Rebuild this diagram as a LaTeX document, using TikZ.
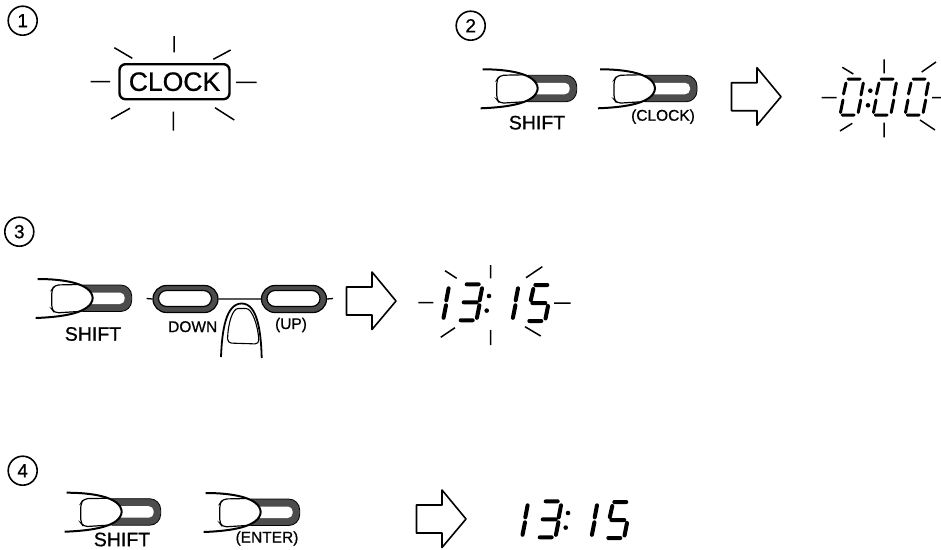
\documentclass[tikz,border=0pt]{standalone}
\usepackage{fontspec}
\setmainfont{Liberation Sans}[FakeBold=0.7]
\usetikzlibrary{shapes.misc}
\newcommand\segA{(-5,-18) -- (7,-18)}
\newcommand\segB{(10.3,-14) -- (8,-2)}
\newcommand\segC{(7.7,3) -- (5.2,15.5)}
\newcommand\segD{(-11,18) -- (1,18)}
\newcommand\segE{(-10,3) -- (-12.5,15.5)}
\newcommand\segF{(-7,-14) -- (-9.5,-3)}
\newcommand\segG{(-8,0) -- (5,0)}
\newcommand\labelsize[1]{\fontsize{#1}{#1}\selectfont}
\tikzset{
  ray/.style={line width=1.5pt},
  segment/.style={line width=4pt, line cap=round},
  thinsegment/.style={line width=3pt, line cap=round},
  stepmark/.style={draw, circle, line width=1.6pt, minimum size=29pt, inner sep=0pt, font=\labelsize{19}},
  keylabel/.style={inner sep=0pt, font=\labelsize{#1}},
  padkey/.style={draw, rounded rectangle, fill=black!70, line width=1.2pt, minimum width=65pt, minimum height=27pt, inner sep=0pt},
  padface/.style={draw, rounded rectangle, fill=white, line width=1.2pt, minimum width=53pt, minimum height=16pt, inner sep=0pt},
  pics/fingerkey/.style={code={
    \draw[black, fill=black!70, line width=0.8pt, rounded corners=11pt] (-20,-13) -- (#1,-13) -- (#1,13.5) -- (-20,13.5) -- cycle;
    \fill[white, rounded corners=5pt] (-6,-5.5) -- (#1-7,-5.5) -- (#1-7,6) -- (-6,6) -- cycle;
    \fill[white] (-55,-19) .. controls (-30,-19) and (-1,-15) .. (0,0) .. controls (-1,15) and (-30,19) .. (-57,20) -- cycle;
    \draw[line width=2pt] (-55,-19) .. controls (-30,-19) and (-1,-15) .. (0,0) .. controls (-1,15) and (-30,19) .. (-57,20);
    \draw[line width=1.2pt, rounded corners=4pt] (-14,-13.5) -- (-38,-13) -- (-41,-8) -- (-41,11) -- (-38,15) -- (-14,13.5);
  }},
  pics/openarrow/.style={code={
    \draw[line width=1.6pt, line join=round] (-49.5,-14) -- (-24,-14) -- (-24,-29) -- (0,0) -- (-24,28.5) -- (-24,14) -- (-49.5,14) -- cycle;
  }},
  pics/dotpair/.style={code={
    \fill (17.3,-6.3) circle (2.3pt);
    \fill (15,8.3) circle (2.3pt);
  }},
  pics/digitone/.style={code={\draw[segment] \segB \segC;}},
  pics/digitthree/.style={code={\draw[segment] \segA \segB \segC \segD \segG;}},
  pics/digitfive/.style={code={\draw[segment] \segA \segF \segG \segC \segD;}},
  pics/digitzero/.style={code={\draw[thinsegment] \segA \segB \segC \segD \segE \segF;}},
}
\begin{document}
\begin{tikzpicture}[x=1pt, y=-1pt]
\useasboundingbox (0,0) rectangle (941,549);
% step marks
\node[stepmark] (one) at (22.7,20.7) {1};
\node[stepmark] (two) at (470.7,25.7) {2};
\node[stepmark] (three) at (19.3,231.7) {3};
\node[stepmark] (four) at (22.7,470.7) {4};
% step 1
\node[draw, rounded corners=6pt, line width=2.4pt, minimum width=110pt, minimum height=35pt, inner sep=0pt, font=\labelsize{26.5}] (clock) at (174.5,81.7) {CLOCK};
\draw[ray] (174,36) -- (174,52.3) (173.3,111.7) -- (173.3,130.7) (90.7,81.7) -- (110,81.7) (236,82.3) -- (256.7,82.3)
  (114.3,47.7) -- (132.3,58.3) (213.3,59.3) -- (230.7,50) (111,119) -- (130,108.3) (215,107.7) -- (234.3,120);
% step 2
\pic at (537.7,88.3) {fingerkey=39};
\node[keylabel=19.5] (shifta) at (537,122.7) {SHIFT};
\pic at (655,88.3) {fingerkey=42};
\node[keylabel=15.5] (clockkey) at (663,116.7) {(CLOCK)};
\pic at (781,96.7) {openarrow};
\pic at (853,97) {digitzero};
\pic at (853,97) {dotpair};
\pic at (886,97) {digitzero};
\pic at (918,97) {digitzero};
\draw[ray] (884,59.3) -- (884,73.3) (884,122.7) -- (884,137.3) (821.7,97.7) -- (836.7,97.7) (932,97.7) -- (941,97.7)
  (842.3,67.3) -- (853.3,74) (840,131) -- (852.3,123.3) (921.7,72) -- (936,62) (920,120) -- (935,130);
% step 3
\node[padkey] (downkey) at (185.5,299) {};
\node[padkey] (upkey) at (294,299) {};
\coordinate (wireleft) at (146.7,298.5);
\coordinate (wireright) at (333,298.5);
\draw[line width=1.3pt] (wireleft) -- (downkey.west) (downkey.east) -- (upkey.west) (upkey.east) -- (wireright);
\node[padface] (downface) at (185,298.5) {};
\node[padface] (upface) at (293.5,298.5) {};
\pic at (92.7,298) {fingerkey=39};
\node[keylabel=19.5] (shiftb) at (93,334) {SHIFT};
\node[keylabel=15.5] (downlabel) at (192.7,326.7) {DOWN};
\node[keylabel=15.5] (uplabel) at (291,325) {(UP)};
\draw[fill=white, line width=1.8pt] (221,357) .. controls (222,330) and (226,303.5) .. (241.7,303.5) .. controls (257,303.5) and (261,330) .. (261.7,358);
\draw[line width=1.1pt, rounded corners=4pt] (227.5,343) .. controls (228,322) and (233,308.5) .. (242,308.5) .. controls (252,308.5) and (258,325) .. (259,344) -- cycle;
\pic at (396,301) {openarrow};
\pic at (438.3,302.3) {digitone};
\pic at (471.7,302.3) {digitthree};
\pic at (471.7,302.3) {dotpair};
\pic at (507.7,302.3) {digitone};
\pic at (540.3,303) {digitfive};
\draw[ray] (490.7,265) -- (490.7,278.3) (490.7,330) -- (490.7,345) (418.3,302.7) -- (433.3,302.7) (554,303) -- (570.7,303)
  (445,270.7) -- (456.7,278.3) (526,277.7) -- (542.3,266.7) (455,327.7) -- (440.7,337.3) (525,326.7) -- (540.7,336);
% step 4
\pic at (121.7,511.7) {fingerkey=39};
\node[keylabel=19.5] (shiftc) at (122,539.5) {SHIFT};
\pic at (260.7,512) {fingerkey=39};
\node[keylabel=15.5] (enterkey) at (267,538.5) {(ENTER)};
\pic at (466,519) {openarrow};
\pic at (517.3,519.3) {digitone};
\pic at (550.7,519.3) {digitthree};
\pic at (550.7,519.3) {dotpair};
\pic at (586.7,519.3) {digitone};
\pic at (619.3,520) {digitfive};
\end{tikzpicture}
\end{document}
